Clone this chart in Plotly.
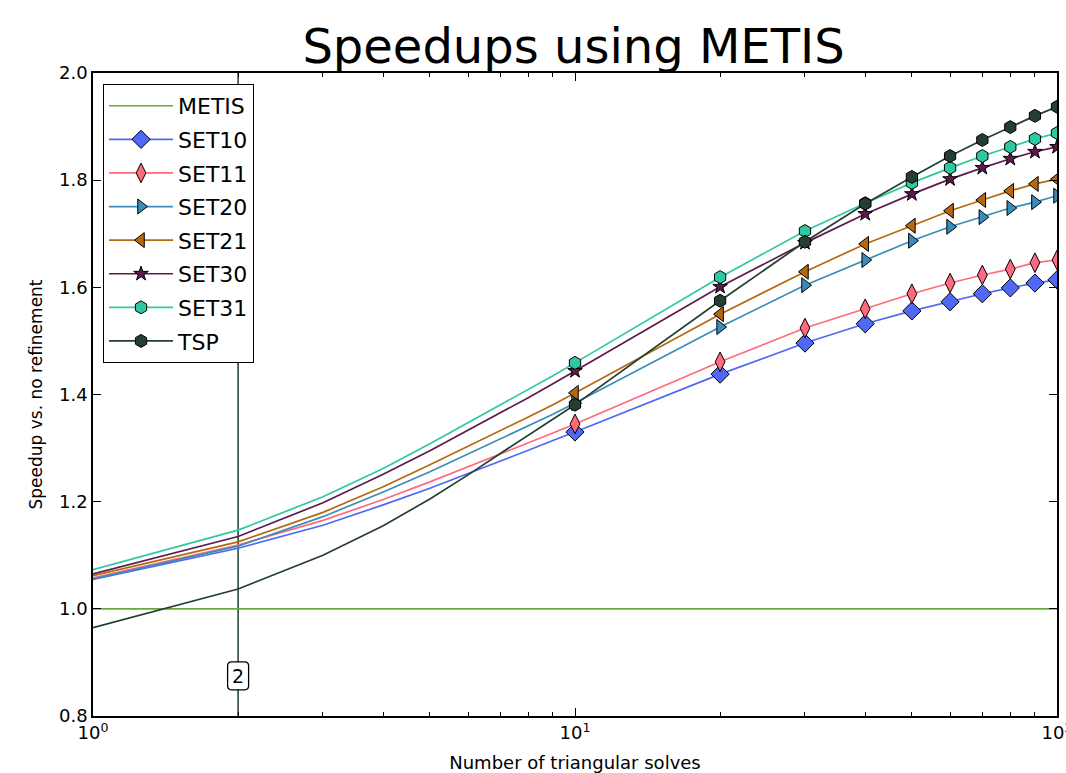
import math
import plotly.graph_objects as go

# ---------------- data ----------------
x_low = [1, 2, 3, 4, 5, 6, 7, 8, 9, 10]
x_high = [10, 20, 30, 40, 50, 60, 70, 80, 90, 100]

metis_x = [1, 100]
metis_y = [1.0, 1.0]

set10 = [1.055, 1.113, 1.156, 1.194, 1.225, 1.252, 1.275, 1.296, 1.314, 1.330,
         1.438, 1.496, 1.532, 1.556, 1.573, 1.588, 1.599, 1.608, 1.614]
set11 = [1.058, 1.119, 1.165, 1.204, 1.237, 1.265, 1.289, 1.309, 1.328, 1.345,
         1.461, 1.524, 1.560, 1.588, 1.608, 1.623, 1.634, 1.646, 1.651]
set20 = [1.056, 1.117, 1.172, 1.218, 1.256, 1.289, 1.317, 1.341, 1.363, 1.384,
         1.526, 1.604, 1.651, 1.687, 1.713, 1.731, 1.748, 1.759, 1.771]
set21 = [1.062, 1.125, 1.180, 1.228, 1.269, 1.303, 1.333, 1.358, 1.381, 1.403,
         1.550, 1.629, 1.681, 1.715, 1.743, 1.763, 1.780, 1.793, 1.802]
set30 = [1.065, 1.135, 1.198, 1.251, 1.295, 1.333, 1.366, 1.394, 1.420, 1.444,
         1.601, 1.683, 1.737, 1.774, 1.802, 1.823, 1.840, 1.853, 1.862]
set31 = [1.073, 1.147, 1.209, 1.262, 1.308, 1.347, 1.380, 1.410, 1.435, 1.459,
         1.619, 1.705, 1.757, 1.795, 1.823, 1.845, 1.862, 1.877, 1.888]
tsp = [0.965, 1.037, 1.100, 1.155, 1.205, 1.250, 1.290, 1.324, 1.354, 1.381,
       1.575, 1.685, 1.756, 1.806, 1.845, 1.875, 1.899, 1.920, 1.937]

series_names = ["SET10", "SET11", "SET20", "SET21", "SET30", "SET31", "TSP"]
series_values = [set10, set11, set20, set21, set30, set31, tsp]
series_colors = ["#5068f5", "#ff6a7c", "#3a8db8", "#b5680f", "#5e1a4e", "#2ec9a2", "#243f31"]
series_symbols = ["diamond", "diamond-tall", "triangle-right", "triangle-left", "star", "hexagon", "hexagon"]
series_sizes = [14, 14, 13, 13, 11, 13, 13]

marker_x = 2
marker_label = "2"
marker_label_y = 0.875

x_tickvals = [1, 10, 100]
x_ticktext = ["10<sup>0</sup>", "10<sup>1</sup>", "10<sup>2</sup>"]
x_minor = [2, 3, 4, 5, 6, 7, 8, 9, 20, 30, 40, 50, 60, 70, 80, 90]
y_ticks = [0.8, 1.0, 1.2, 1.4, 1.6, 1.8, 2.0]

FONT = "DejaVu Sans"

fig = go.Figure()

# vertical marker line (drawn first, below everything)
fig.add_trace(go.Scatter(x=[marker_x, marker_x], y=[0.8, 2.0], mode="lines",
                         line=dict(color="#2b4a3a", width=1.6),
                         showlegend=False, hoverinfo="skip"))

fig.add_trace(go.Scatter(x=metis_x, y=metis_y, mode="lines", name="METIS",
                         legendgroup="METIS",
                         line=dict(color="#6aaa3a", width=1.7)))

for name, vals, col, sym, sz in zip(series_names, series_values, series_colors,
                                    series_symbols, series_sizes):
    lo = vals[:10]
    hi = [vals[9]] + vals[10:]
    fig.add_trace(go.Scatter(x=x_low, y=lo, mode="lines", legendgroup=name,
                             showlegend=False, line=dict(color=col, width=1.7),
                             hoverinfo="skip"))
    fig.add_trace(go.Scatter(x=x_high, y=hi, mode="lines+markers", name=name,
                             legendgroup=name,
                             line=dict(color=col, width=1.7),
                             marker=dict(symbol=sym, size=sz, color=col,
                                         line=dict(color="black", width=1))))

# rounded label box at x=2
fig.add_shape(type="path", xref="x", yref="y", xsizemode="pixel", ysizemode="pixel",
              xanchor=marker_x, yanchor=marker_label_y,
              path="M -6.5 -14 L 6.5 -14 Q 10.5 -14 10.5 -10 L 10.5 10 Q 10.5 14 6.5 14 "
                   "L -6.5 14 Q -10.5 14 -10.5 10 L -10.5 -10 Q -10.5 -14 -6.5 -14 Z",
              line=dict(color="black", width=1.3), fillcolor="white", layer="above")
fig.add_annotation(x=math.log10(marker_x), y=marker_label_y, xref="x", yref="y",
                   text=marker_label, showarrow=False,
                   font=dict(family=FONT, size=19, color="black"))

fig.update_layout(
    width=1066, height=773,
    margin=dict(l=93, r=9, t=73, b=57, autoexpand=False),
    paper_bgcolor="white", plot_bgcolor="white",
    font=dict(family=FONT, color="black"),
    title=dict(text="Speedups using METIS", x=0.538, xanchor="center",
               y=0.962, yanchor="top",
               font=dict(family=FONT, size=48, color="black")),
    legend=dict(x=0.0104, y=0.983, xanchor="left", yanchor="top",
                bordercolor="black", borderwidth=1, bgcolor="white",
                font=dict(family=FONT, size=22, color="black"),
                itemwidth=64, tracegroupgap=2),
    showlegend=True,
)

fig.update_xaxes(type="log", range=[0, 2], showline=True, linecolor="black", linewidth=1.5,
                 mirror="ticks", ticks="inside", ticklen=8, tickwidth=1, tickcolor="black",
                 tickvals=x_tickvals, ticktext=x_ticktext, showgrid=False, zeroline=False,
                 tickfont=dict(family=FONT, size=18), automargin=False,
                 ticklabeloverflow="allow",
                 minor=dict(tickvals=x_minor, ticks="inside", ticklen=4, tickcolor="black",
                            showgrid=False),
                 title=dict(text="Number of triangular solves", font=dict(family=FONT, size=18),
                            standoff=15))
fig.update_yaxes(range=[0.8, 2.0], showline=True, linecolor="black", linewidth=1.5,
                 mirror="ticks", ticks="inside", ticklen=8, tickwidth=1, tickcolor="black",
                 tickvals=y_ticks, tickformat=".1f", showgrid=False, zeroline=False,
                 tickfont=dict(family=FONT, size=18), automargin=False,
                 title=dict(text="Speedup vs. no refinement", font=dict(family=FONT, size=17),
                            standoff=12))

fig.write_html("out.html")
